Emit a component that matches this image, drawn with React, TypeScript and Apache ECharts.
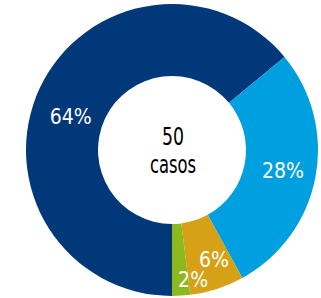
import React, { useEffect, useRef } from "react";
import * as echarts from "echarts";

const categories = ["A", "B", "C", "D"];
const values = [64, 28, 6, 2];
const totalCases = 50;
const centerWord = "casos";

const colors = ["#00387a", "#009fe0", "#d6a116", "#8cba1e"];
const FONT = "'DejaVu Sans Condensed', 'DejaVu Sans', sans-serif";
const labelShift: [number, number][] = [
  [1, 15],
  [0, 0],
  [7, 3],
  [14, 17],
];

export default function App() {
  const ref = useRef<HTMLDivElement>(null);
  useEffect(() => {
    document.body.style.margin = "0";
    if (!ref.current) return;
    const chart = echarts.init(ref.current, undefined, { renderer: "svg" });
    chart.setOption({
      animation: false,
      backgroundColor: "#ffffff",
      graphic: [
        {
          type: "text",
          x: 173,
          y: 137,
          scaleX: 0.8,
          style: {
            text: String(totalCases),
            fontFamily: FONT,
            fontSize: 24,
            fill: "#000000",
            align: "center",
            verticalAlign: "middle",
          },
        },
        {
          type: "text",
          x: 173,
          y: 165,
          scaleX: 0.76,
          style: {
            text: centerWord,
            fontFamily: FONT,
            fontSize: 24,
            fill: "#000000",
            align: "center",
            verticalAlign: "middle",
          },
        },
      ],
      series: [
        {
          type: "pie",
          center: [172, 150],
          radius: [74, 146],
          startAngle: 270,
          clockwise: true,
          avoidLabelOverlap: false,
          label: {
            show: true,
            position: "inside",
            formatter: "{c}%",
            color: "#ffffff",
            fontFamily: FONT,
            fontSize: 21,
          },
          labelLine: { show: false },
          labelLayout: (p: any) => ({
            dx: labelShift[p.dataIndex][0],
            dy: labelShift[p.dataIndex][1],
          }),
          emphasis: { disabled: true },
          itemStyle: { borderWidth: 0 },
          data: categories.map((name, i) => ({
            name,
            value: values[i],
            itemStyle: { color: colors[i] },
          })),
        },
      ],
    });
    return () => chart.dispose();
  }, []);
  return <div ref={ref} style={{ width: 321, height: 298 }} />;
}
